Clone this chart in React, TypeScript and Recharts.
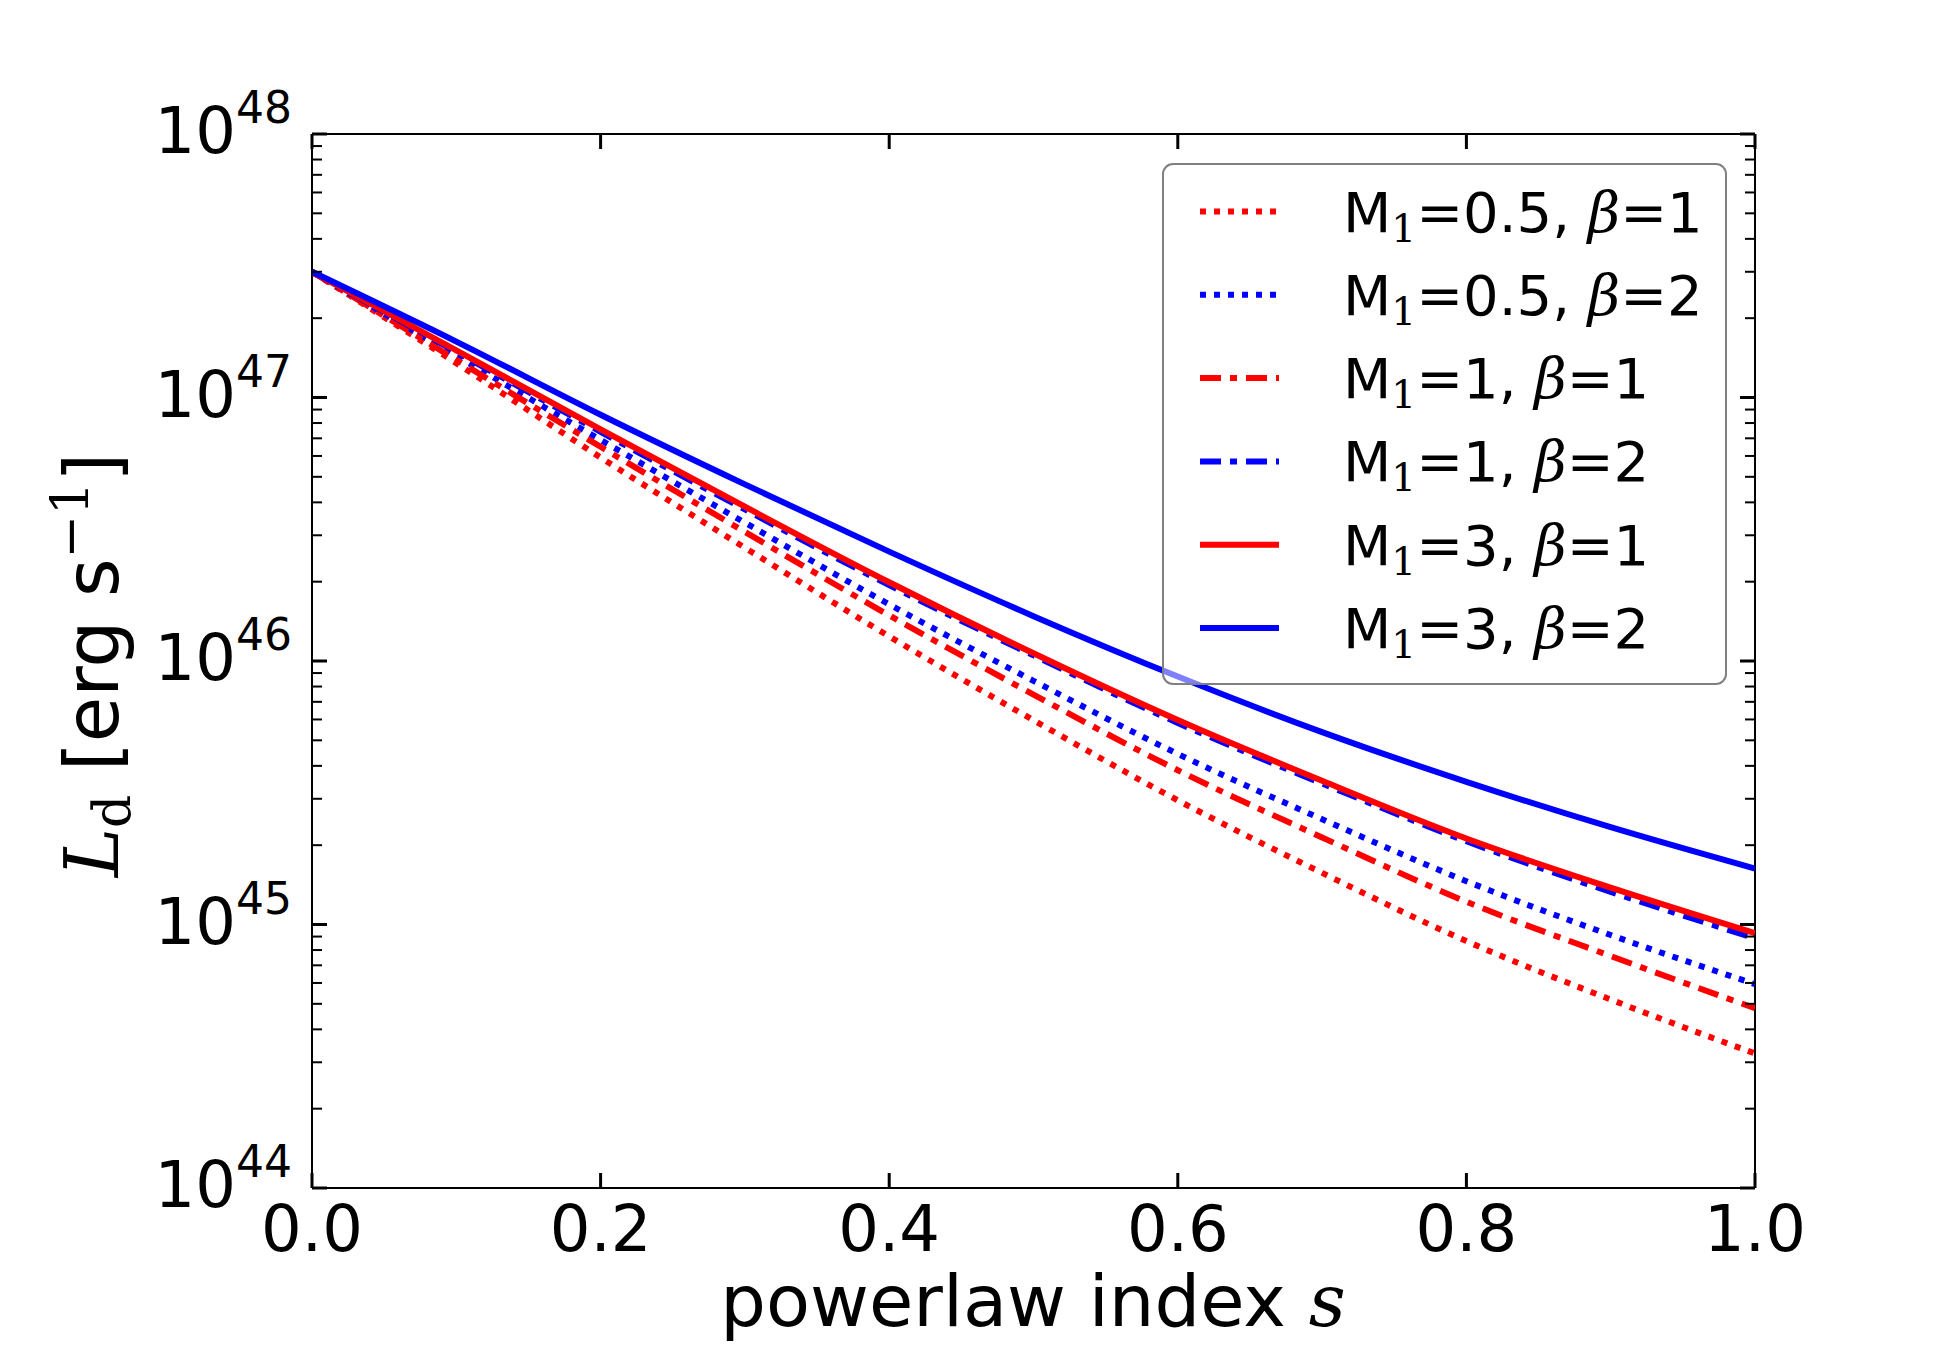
import React from 'react';
import { LineChart, Line, XAxis, YAxis, ReferenceLine } from 'recharts';

// ---- data ----
const sValues = [0, 0.1, 0.2, 0.3, 0.4, 0.5, 0.6, 0.7, 0.8, 0.9, 1.0];
const m05b1 = [3.0e47, 1.35e47, 5.92e46, 2.69e46, 1.24e46, 5.96e45, 2.96e45, 1.57e45, 8.65e44, 5.19e44, 3.24e44];
const m05b2 = [3.0e47, 1.44e47, 6.90e46, 3.35e46, 1.64e46, 8.41e45, 4.44e45, 2.51e45, 1.46e45, 9.12e44, 5.94e44];
const m1b1 = [3.0e47, 1.39e47, 6.50e46, 3.09e46, 1.49e46, 7.46e45, 3.85e45, 2.14e45, 1.22e45, 7.59e44, 4.81e44];
const m1b2 = [3.0e47, 1.49e47, 7.41e46, 3.76e46, 1.94e46, 1.05e46, 5.82e45, 3.43e45, 2.07e45, 1.33e45, 8.87e44];
const m3b1 = [3.0e47, 1.51e47, 7.57e46, 3.85e46, 1.99e46, 1.07e46, 5.97e45, 3.51e45, 2.12e45, 1.38e45, 9.27e44];
const m3b2 = [3.0e47, 1.63e47, 8.60e46, 4.68e46, 2.60e46, 1.48e46, 8.73e45, 5.37e45, 3.48e45, 2.34e45, 1.63e45];

const xTicks = [0, 0.2, 0.4, 0.6, 0.8, 1.0];
const yDecades = [44, 45, 46, 47, 48];
const legendM = ['0.5', '0.5', '1', '1', '3', '3'];
const legendBeta = ['1', '2', '1', '2', '1', '2'];
const seriesKeys = ['m05b1', 'm05b2', 'm1b1', 'm1b2', 'm3b1', 'm3b2'];
const seriesValues = [m05b1, m05b2, m1b1, m1b2, m3b1, m3b2];

// ---- styles ----
const RED = '#ff0000';
const BLUE = '#0000ff';
const DOT = '6 8';
const DASHDOT = '21 9 7 9';
const LW = 6;
const seriesStyle = [
  { color: RED, dash: DOT },
  { color: BLUE, dash: DOT },
  { color: RED, dash: DASHDOT },
  { color: BLUE, dash: DASHDOT },
  { color: RED, dash: undefined },
  { color: BLUE, dash: undefined },
];

const data = sValues.map((s, i) => {
  const row: Record<string, number> = { s };
  seriesKeys.forEach((k, j) => {
    row[k] = seriesValues[j][i];
  });
  return row;
});

const yTicks: number[] = [];
yDecades.forEach((d, idx) => {
  yTicks.push(Math.pow(10, d));
  if (idx < yDecades.length - 1) {
    for (let k = 2; k <= 9; k++) yTicks.push(k * Math.pow(10, d));
  }
});

const W = 1950;
const H = 1350;
const PLOT = { left: 312, right: 1755, top: 134, bottom: 1188 };
const FONT = 'DejaVu Sans, sans-serif';
const SERIF = 'DejaVu Serif, serif';

function YTick(props: any) {
  const { y, payload } = props;
  const v = payload.value;
  const lg = Math.log10(v);
  const major = Math.abs(lg - Math.round(lg)) < 1e-6;
  const len = major ? 15 : 10;
  const w = major ? 3 : 2;
  return (
    <g>
      <line x1={PLOT.left} x2={PLOT.left + len} y1={y} y2={y} stroke="#000" strokeWidth={w} />
      <line x1={PLOT.right} x2={PLOT.right - len} y1={y} y2={y} stroke="#000" strokeWidth={w} />
      {major && (
        <text x={292} y={y + 19} textAnchor="end" fontFamily={FONT} fill="#000">
          <tspan fontSize={64}>10</tspan>
          <tspan fontSize={44} dy={-30}>{String(Math.round(lg))}</tspan>
        </text>
      )}
    </g>
  );
}

function XTick(props: any) {
  const { x, payload } = props;
  const len = 15;
  return (
    <g>
      <line x1={x} x2={x} y1={PLOT.bottom} y2={PLOT.bottom - len} stroke="#000" strokeWidth={3} />
      <line x1={x} x2={x} y1={PLOT.top} y2={PLOT.top + len} stroke="#000" strokeWidth={3} />
      <text x={x} y={PLOT.bottom + 63} textAnchor="middle" fontFamily={FONT} fontSize={64} fill="#000">
        {Number(payload.value).toFixed(1)}
      </text>
    </g>
  );
}

export default function App() {
  const rowY0 = 211.5;
  const rowStep = 83.3;
  return (
    <div style={{ position: 'absolute', left: 0, top: 0, width: W, height: H, background: '#fff' }}>
      <LineChart
        width={W}
        height={H}
        data={data}
        margin={{ top: PLOT.top, right: W - PLOT.right, left: PLOT.left - 100, bottom: H - PLOT.bottom - 60 }}
      >
        <XAxis
          dataKey="s"
          type="number"
          domain={[0, 1]}
          ticks={xTicks}
          interval={0}
          tick={<XTick />}
          tickLine={false}
          axisLine={{ stroke: '#000', strokeWidth: 2 }}
          height={60}
          allowDataOverflow
        />
        <YAxis
          type="number"
          scale="log"
          domain={[1e44, 1e48]}
          ticks={yTicks}
          interval={0}
          tick={<YTick />}
          tickLine={false}
          axisLine={{ stroke: '#000', strokeWidth: 2 }}
          width={100}
          allowDataOverflow
        />
        <ReferenceLine y={1e48} stroke="#000" strokeWidth={2} />
        <ReferenceLine x={1} stroke="#000" strokeWidth={2} />
        {seriesKeys.map((k, j) => (
          <Line
            key={k}
            dataKey={k}
            type="monotone"
            stroke={seriesStyle[j].color}
            strokeWidth={LW}
            strokeDasharray={seriesStyle[j].dash}
            dot={false}
            activeDot={false}
            isAnimationActive={false}
          />
        ))}
      </LineChart>
      <svg
        width={W}
        height={H}
        style={{ position: 'absolute', left: 0, top: 0, pointerEvents: 'none' }}
      >
        <text x={1033} y={1326} textAnchor="middle" fontFamily={FONT} fontSize={72} fill="#000">
          powerlaw index{' '}
          <tspan fontFamily={SERIF} fontStyle="italic">s</tspan>
        </text>
        <text
          transform="translate(118, 665) rotate(-90)"
          textAnchor="middle"
          fontFamily={FONT}
          fontSize={74}
          fill="#000"
        >
          <tspan fontFamily={SERIF} fontStyle="italic">L</tspan>
          <tspan fontFamily={SERIF} fontSize={52} dy={12}>d</tspan>
          <tspan dy={-12}> [erg s</tspan>
          <tspan fontFamily={SERIF} fontSize={52} dy={-30}>−1</tspan>
          <tspan dy={30}>]</tspan>
        </text>
        <rect x={1163} y={164} width={563} height={520} rx={10} ry={10} fill="#fff" fillOpacity={0.5} stroke="#808080" strokeWidth={2} />
        {seriesKeys.map((k, j) => {
          const cy = rowY0 + j * rowStep;
          return (
            <g key={k}>
              <line x1={1200} x2={1279} y1={cy} y2={cy} stroke={seriesStyle[j].color} strokeWidth={LW} strokeDasharray={seriesStyle[j].dash} />
              <text x={1343} y={cy + 20} fontFamily={FONT} fontSize={56} fill="#000">
                M
                <tspan fontFamily={SERIF} fontSize={39} dy={10}>1</tspan>
                <tspan dy={-10}>{'=' + legendM[j] + ', '}</tspan>
                <tspan fontFamily={SERIF} fontStyle="italic">β</tspan>
                <tspan>{'=' + legendBeta[j]}</tspan>
              </text>
            </g>
          );
        })}
      </svg>
    </div>
  );
}
